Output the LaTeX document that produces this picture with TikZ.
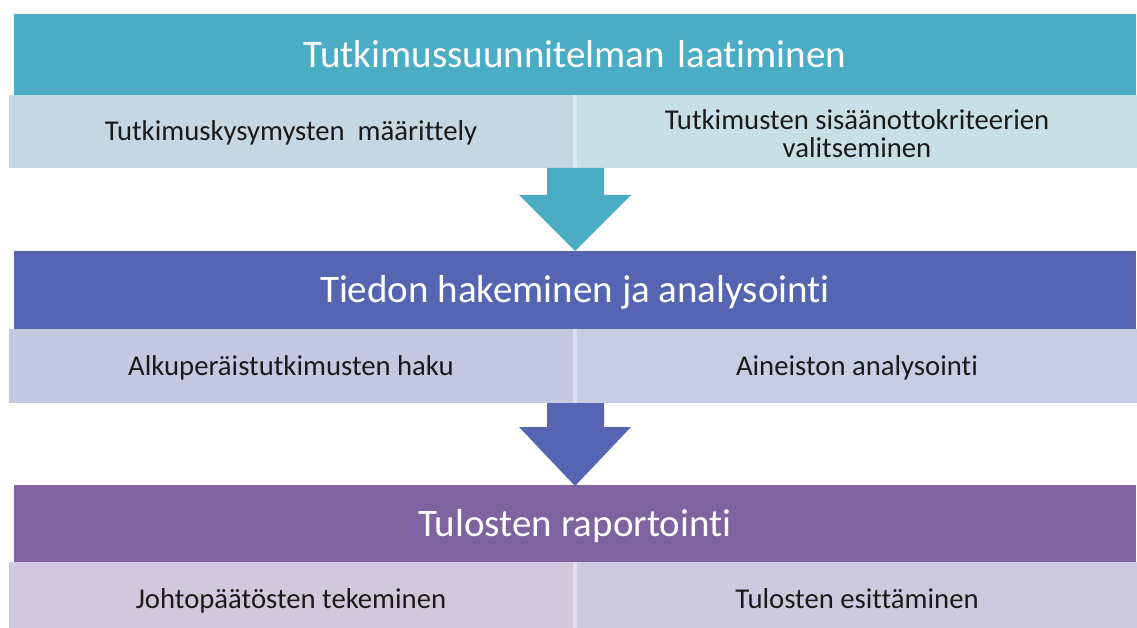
\documentclass[tikz,border=0pt]{standalone}
\usepackage{fontspec}
\setmainfont[Ligatures=NoCommon]{Carlito}
\definecolor{hA}{HTML}{4BACC6}
\definecolor{sAL}{HTML}{C5D7E3}
\definecolor{sAR}{HTML}{C8DFE7}
\definecolor{gA}{HTML}{DCE9F0}
\definecolor{hB}{HTML}{5565B2}
\definecolor{sBL}{HTML}{C6C7E1}
\definecolor{sBR}{HTML}{C9CDE3}
\definecolor{gB}{HTML}{DCDEEE}
\definecolor{hC}{HTML}{7F62A0}
\definecolor{sCL}{HTML}{D0C8DD}
\definecolor{sCR}{HTML}{CDC9DF}
\definecolor{gC}{HTML}{E2DDEA}
\definecolor{txt}{HTML}{1A1A1A}
\tikzset{
  headbox/.style={inner sep=0pt, minimum width=1122pt, font=\fontsize{39}{42}\selectfont, text=white, text height=25.1pt, text depth=0pt},
  subbox/.style={inner sep=0pt, font=\fontsize{28.7}{28.5}\selectfont, text=txt, text height=18.5pt, text depth=0pt},
  subtext/.style={inner sep=0pt, font=\fontsize{28.7}{28.4}\selectfont, text=txt, align=center},
}
\begin{document}
\begin{tikzpicture}[x=1pt,y=-1pt]
\useasboundingbox (0,0) rectangle (1137,628);
% row 1
\node[headbox, fill=hA, minimum height=81pt] (h1) at (575,54.5) {Tutkimussuunnitelman\hspace{4pt} laatiminen};
\fill[gA] (9,95) rectangle (1137,168);
\node[subbox, fill=sAL, minimum width=564pt, minimum height=73pt] (s1l) at (291,131.5) {Tutkimuskysymysten\ \ määrittely};
\node[subbox, fill=sAR, minimum width=560pt, minimum height=73pt] (s1r) at (857,131.5) {};
\node[subtext] (s1rt) at ([yshift=-2.2pt]s1r.center) {Tutkimusten sisäänottokriteerien\\valitseminen};
% row 2
\node[headbox, fill=hB, minimum height=78pt] (h2) at (575,290) {Tiedon hakeminen ja analysointi};
\fill[gB] (9,329) rectangle (1137,403);
\node[subbox, fill=sBL, minimum width=564pt, minimum height=74pt] (s2l) at (291,366) {Alkuperäistutkimusten haku};
\node[subbox, fill=sBR, minimum width=560pt, minimum height=74pt] (s2r) at (857,366) {Aineiston analysointi};
% row 3
\node[headbox, fill=hC, minimum height=77pt] (h3) at (575,523.5) {Tulosten raportointi};
\fill[gC] (9,562) rectangle (1137,636);
\node[subbox, fill=sCL, minimum width=564pt, minimum height=74pt] (s3l) at (291,599) {Johtopäätösten tekeminen};
\node[subbox, fill=sCR, minimum width=560pt, minimum height=74pt] (s3r) at (857,599) {Tulosten esittäminen};
% arrows
\coordinate (a1) at (575,168);
\coordinate (t1) at (575,251);
\fill[hA] ([xshift=-28pt]a1) -- ([xshift=29pt]a1) -- ([xshift=29pt]a1 |- 0,195) -- (631,195) -- (t1) -- (519,195) -- ([xshift=-28pt]a1 |- 0,195) -- cycle;
\coordinate (a2) at (575,403);
\coordinate (t2) at (575,486);
\fill[hB] ([xshift=-28pt]a2) -- ([xshift=29pt]a2) -- ([xshift=29pt]a2 |- 0,427) -- (631,427) -- (t2) -- (519,427) -- ([xshift=-28pt]a2 |- 0,427) -- cycle;
\end{tikzpicture}
\end{document}
